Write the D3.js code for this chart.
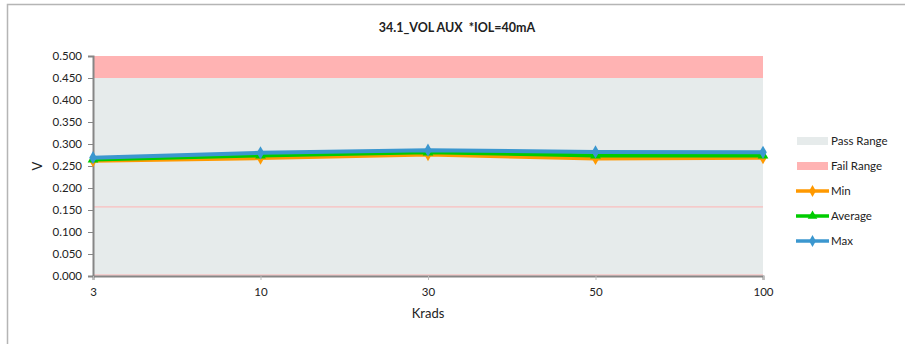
<!DOCTYPE html>
<html>
<head>
<meta charset="utf-8">
<title>34.1_VOL AUX *IOL=40mA</title>
<script src="https://d3js.org/d3.v7.min.js"></script>
<style>
    html, body { margin: 0; padding: 0; background: white; }
    svg text { font-family: Lato, "Open Sans", sans-serif; fill: #222; }
</style>
</head>
<body>
<div id="graph"></div>
<script>
    // data
    var krads = ["3", "10", "30", "50", "100"];
    var minVals = [0.262, 0.268, 0.276, 0.267, 0.269];
    var avgVals = [0.265, 0.274, 0.281, 0.274, 0.274];
    var maxVals = [0.269, 0.280, 0.286, 0.282, 0.281];
    var yTicks = [0, 0.05, 0.1, 0.15, 0.2, 0.25, 0.3, 0.35, 0.4, 0.45, 0.5];
    var passLimit = 0.45;
    var yMax = 0.5;
    var oddLine = 0.157; // faint pink line in the original

    var W = 905, H = 344;
    var margin = {top: 56, left: 93, right: 142, bottom: 68};
    var width = W - margin.left - margin.right,
        height = H - margin.top - margin.bottom;

    var svg = d3.select("#graph").append("svg")
        .attr("width", W).attr("height", H);

    // outer frame (only top + left visible)
    svg.append("path")
        .attr("d", "M7.5," + H + "V4.5H" + W)
        .attr("fill", "none").attr("stroke", "#b5b5b5").attr("stroke-width", 1.5);

    var g = svg.append("g").attr("transform", "translate(" + margin.left + "," + margin.top + ")");

    var x = d3.scalePoint().domain(krads).range([0, width]);
    var y = d3.scaleLinear().domain([0, yMax]).range([height, 0]);

    // pass / fail bands
    g.append("rect").attr("x", 0).attr("width", width)
        .attr("y", y(passLimit)).attr("height", y(0) - y(passLimit))
        .attr("fill", "#e6ebeb");
    g.append("rect").attr("x", 0).attr("width", width)
        .attr("y", y(yMax)).attr("height", y(passLimit) - y(yMax))
        .attr("fill", "#ffb3b3");

    g.append("line").attr("x1", 0).attr("x2", width)
        .attr("y1", y(oddLine)).attr("y2", y(oddLine))
        .attr("stroke", "#ffb3b3").attr("stroke-width", 1);
    g.append("line").attr("x1", 0).attr("x2", width)
        .attr("y1", y(0) - 1).attr("y2", y(0) - 1)
        .attr("stroke", "#ffb3b3").attr("stroke-width", 1);

    // axes
    var yAxis = d3.axisLeft(y).tickValues(yTicks).tickSize(5).tickPadding(6)
        .tickFormat(d3.format(".3f"));
    var yg = g.append("g").call(yAxis);
    yg.select(".domain").attr("stroke", "#868686").attr("stroke-width", 2);
    yg.selectAll(".tick line").attr("stroke", "#868686");
    yg.selectAll(".tick text").style("font-size", "11.5px");

    var xAxis = d3.axisBottom(x).tickSize(4).tickPadding(8);
    var xg = g.append("g").attr("transform", "translate(0," + height + ")").call(xAxis);
    xg.select(".domain").attr("stroke", "#868686").attr("stroke-width", 2);
    xg.selectAll(".tick line").attr("stroke", "#bbbbbb");
    xg.selectAll(".tick text").style("font-size", "11.5px");

    // series
    var series = [
        {name: "Min", vals: minVals, color: "#ff9900", marker: d3.symbolDiamond},
        {name: "Average", vals: avgVals, color: "#00cc00", marker: d3.symbolTriangle},
        {name: "Max", vals: maxVals, color: "#3b97cf", marker: d3.symbolDiamond}
    ];

    var line = d3.line()
        .x(function(d, i) { return x(krads[i]); })
        .y(function(d) { return y(d); });

    series.forEach(function(s) {
        g.append("path").datum(s.vals)
            .attr("d", line)
            .attr("fill", "none").attr("stroke", s.color).attr("stroke-width", 4);
        g.selectAll(null).data(s.vals).enter().append("path")
            .attr("d", d3.symbol().type(s.marker).size(50))
            .attr("transform", function(d, i) { return "translate(" + x(krads[i]) + "," + y(d) + ")"; })
            .attr("fill", s.color);
    });

    // titles
    svg.append("text").attr("x", 457).attr("y", 32).attr("text-anchor", "middle")
        .style("white-space", "pre")
        .style("font-size", "12.5px").style("font-weight", "bold").text("34.1_VOL AUX \u00a0*IOL=40mA");
    svg.append("text").attr("transform", "translate(42,166) rotate(-90)").attr("text-anchor", "middle")
        .style("font-size", "13px").text("V");
    svg.append("text").attr("x", margin.left + width / 2).attr("y", 318).attr("text-anchor", "middle")
        .style("font-size", "13px").text("Krads");

    // legend
    var leg = svg.append("g").attr("transform", "translate(797,141)");
    var legItems = [
        {name: "Pass Range", type: "box", color: "#e6ebeb"},
        {name: "Fail Range", type: "box", color: "#ffb3b3"}
    ].concat(series.map(function(s) { return {name: s.name, type: "line", color: s.color, marker: s.marker}; }));

    legItems.forEach(function(it, i) {
        var row = leg.append("g").attr("transform", "translate(0," + (i * 25) + ")");
        if (it.type === "box") {
            row.append("rect").attr("x", 0).attr("y", -4).attr("width", 31).attr("height", 8).attr("fill", it.color);
        } else {
            row.append("line").attr("x1", -1).attr("x2", 32).attr("y1", 0).attr("y2", 0)
                .attr("stroke", it.color).attr("stroke-width", 3.5);
            row.append("path").attr("d", d3.symbol().type(it.marker).size(40))
                .attr("transform", "translate(15.5,0)").attr("fill", it.color);
        }
        row.append("text").attr("x", 34).attr("y", 0).attr("dy", "0.35em")
            .style("font-size", "11.5px").text(it.name);
    });
</script>
</body>
</html>
